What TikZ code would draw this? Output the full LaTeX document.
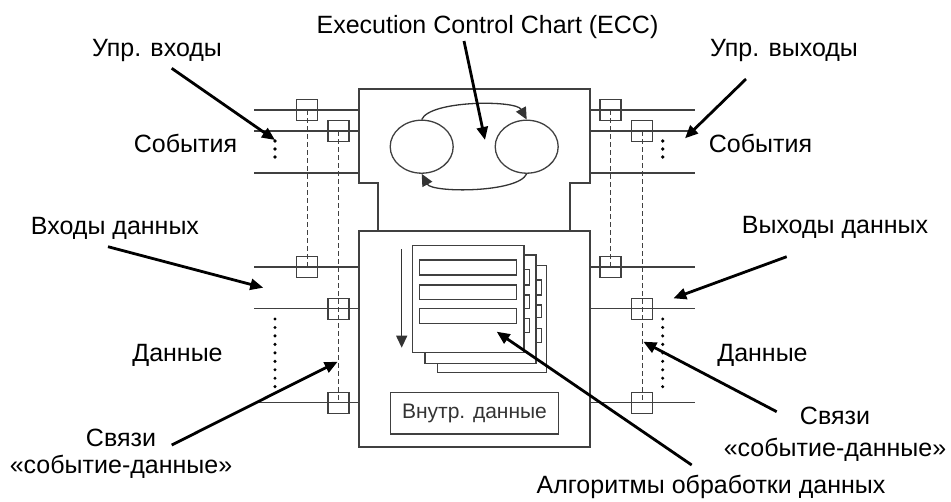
\documentclass[tikz,border=0pt]{standalone}
\usepackage{fontspec}
\setmainfont{Liberation Sans}
\usetikzlibrary{arrows.meta, shapes.geometric}

\begin{document}
\begin{tikzpicture}[
    x=1pt,
    y=-1pt,
    wire/.style={draw=black!75, line width=1.3pt},
    port/.style={rectangle, draw=black!75, line width=1.3pt, minimum size=21pt, inner sep=0pt},
    link/.style={draw=black!75, line width=1pt, dash pattern=on 5pt off 3pt},
    state/.style={ellipse, draw=black!75, line width=1.3pt, minimum width=63pt, minimum height=53pt, inner sep=0pt},
    page/.style={draw=black!75, line width=1.3pt, fill=white},
    pointer/.style={line width=2.8pt, -{Triangle[length=13pt, width=11pt]}},
    flow/.style={draw=black!80, line width=1.3pt, -{Triangle[length=12pt, width=11pt]}},
    lbl/.style={font=\fontsize{25}{29}\selectfont, inner sep=0pt}
]
\useasboundingbox (0,0) rectangle (951,501);

%---------------- Function block body ----------------
\draw[wire] (378,231) -- (378,183) -- (359,183) -- (359,89) -- (590,89)
            -- (590,183) -- (570,183) -- (570,231);
\draw[wire] (359,231) rectangle (590,447);

%---------------- Pins (events and data) ----------------
\foreach \y in {110, 131, 173, 267, 308.7, 402.7} {
    \draw[wire] (254,\y) -- (359,\y);
    \draw[wire] (590,\y) -- (695,\y);
}

%---------------- Ports ----------------
\foreach \name/\x/\y in {PL1/307/110, PL2/338.5/131, PL3/307/267, PL4/338.5/308.7, PL5/338.5/402.7,
                         PR1/610.5/110, PR2/642/131, PR3/610.5/267, PR4/642/308.7, PR5/642/402.7} {
    \node[port] (\name) at (\x,\y) {};
}

% event-data links
\draw[link] (PL1.center) -- (PL3.center);
\draw[link] (PL2.center) -- (PL5.center);
\draw[link] (PR1.center) -- (PR3.center);
\draw[link] (PR2.center) -- (PR5.center);

% dots
\foreach \y in {141, 149, 157} {
    \fill (275,\y) circle (1.8);
    \fill (662.7,\y) circle (1.8);
}
\foreach \i in {0,...,8} {
    \fill (275,319+8.46*\i) circle (1.7);
    \fill (662.7,319+8.46*\i) circle (1.7);
}

%---------------- ECC ----------------
\node[state] (S1) at (421.7,146.7) {};
\node[state] (S2) at (526.7,146.7) {};
\draw[flow] (S1.north) .. controls (430,100) and (516,100) .. (S2.north);
\draw[flow] (S2.south) .. controls (518,193) and (432,193) .. (S1.south);

%---------------- Algorithms ----------------
\draw[page] (437.3,265.7) rectangle (546.7,372.3);
\draw[page] (425,255) rectangle (536,363.3);
\draw[page] (412.3,245.7) rectangle (524,352.7);
\foreach \ya/\yb in {280/295, 305/317.3, 328.3/342.7} {
    \draw[wire] (536,\ya) rectangle (541.7,\yb);
}
\foreach \ya/\yb in {269.3/285, 295/308.3, 318.3/332.7} {
    \draw[wire] (524,\ya) rectangle (529.5,\yb);
}
\foreach \ya/\yb in {260/275, 285/299.3, 308.3/323.3} {
    \draw[wire] (419.3,\ya) rectangle (516.7,\yb);
}
\coordinate (seqTop) at (401.7,249.3);
\coordinate (seqEnd) at (401.7,347.7);
\draw[flow] (seqTop) -- (seqEnd);

\node[draw=black!75, line width=1.3pt, minimum width=167.6pt, minimum height=41.3pt, inner sep=0pt,
      font=\fontsize{21}{24}\selectfont, text=black!80] (intData) at (474.5,413.3) {Внутр. данные};

%---------------- Labels ----------------
\node[lbl] (ecc)    at (487.5,27)  {Execution Control Chart (ECC)};
\node[lbl] (evIn)   at (157,50)    {Упр. входы};
\node[lbl] (evOut)  at (784,50)    {Упр. выходы};
\node[lbl] (evL)    at (185.5,143) {События};
\node[lbl] (evR)    at (760.5,143) {События};
\node[lbl] (dIn)    at (115,228)   {Входы данных};
\node[lbl] (dOut)   at (835,227)   {Выходы данных};
\node[lbl] (dL)     at (177.5,355) {Данные};
\node[lbl] (dR)     at (762.5,355) {Данные};
\node[lbl, align=center] (wL) at (121,453.5) {Связи\\[-2pt]«событие-данные»};
\node[lbl, align=center] (wR) at (835,434)   {Связи\\[3pt]«событие-данные»};
\node[lbl] (algo)   at (711,487)   {Алгоритмы обработки данных};

%---------------- Pointers ----------------
\coordinate (eccT)  at (464,41);    \coordinate (eccH)  at (485,140);
\coordinate (evInT) at (171.7,68.3); \coordinate (evInH) at (275,140);
\coordinate (evOutT) at (746,79);   \coordinate (evOutH) at (685,138.3);
\coordinate (dInT)  at (108,246.7); \coordinate (dInH)  at (263.3,287.7);
\coordinate (dOutT) at (786.7,256.7); \coordinate (dOutH) at (673.3,298.3);
\coordinate (wLT)   at (171.7,445); \coordinate (wLH)   at (337.7,361.7);
\coordinate (wRT)   at (776.7,411.7); \coordinate (wRH)  at (643.3,341.7);
\coordinate (algoT) at (691.7,465); \coordinate (algoH) at (496.7,331.7);

\draw[pointer] (eccT) -- (eccH);
\draw[pointer] (evInT) -- (evInH);
\draw[pointer] (evOutT) -- (evOutH);
\draw[pointer] (dInT) -- (dInH);
\draw[pointer] (dOutT) -- (dOutH);
\draw[pointer] (wLT) -- (wLH);
\draw[pointer] (wRT) -- (wRH);
\draw[pointer] (algoT) -- (algoH);
\end{tikzpicture}
\end{document}
